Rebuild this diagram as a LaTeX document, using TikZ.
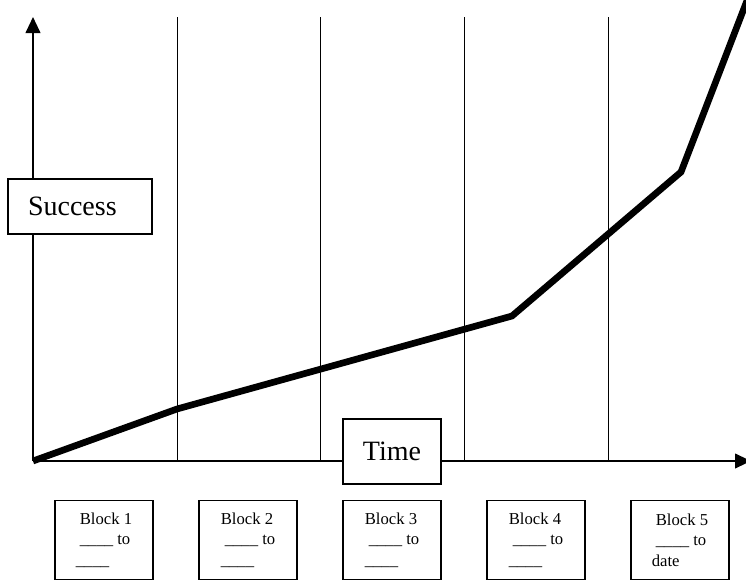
\documentclass[tikz,border=0pt]{standalone}
\usepackage{fontspec}
\setmainfont{Liberation Serif}
\usetikzlibrary{arrows.meta}

\begin{document}
\begin{tikzpicture}[x=0.75pt, y=-0.75pt,
axis_style/.style={draw=black, line width=1.5pt, -{Triangle[length=12pt,width=11pt]}},
grid_style/.style={draw=black, line width=0.75pt},
curve_style/.style={draw=black, line width=5pt, line join=miter},
label_style/.style={draw=black, fill=white, line width=1pt, font=\fontsize{21}{25}\selectfont},
block_style/.style={draw=black, fill=white, line width=1pt, minimum width=73.5pt, minimum height=59pt, inner xsep=2pt, align=left, font=\fontsize{12.5}{15.5}\selectfont}]
\useasboundingbox (0,0) rectangle (746,582);

\coordinate (o) at (33,461);
\coordinate (ytop) at (33,17);
\coordinate (xend) at (751,461);

\coordinate (t1) at (177,17);
\coordinate (b1) at (177,461);
\coordinate (t2) at (320,17);
\coordinate (b2) at (320,461);
\coordinate (t3) at (464,17);
\coordinate (b3) at (464,461);
\coordinate (t4) at (608,17);
\coordinate (b4) at (608,461);

\coordinate (p1) at (177,409);
\coordinate (p2) at (512,316);
\coordinate (p3) at (681,172);
\coordinate (p4) at (748,-2);

\draw[grid_style] (t1) -- (b1);
\draw[grid_style] (t2) -- (b2);
\draw[grid_style] (t3) -- (b3);
\draw[grid_style] (t4) -- (b4);

\draw[axis_style] (o) -- (ytop);
\draw[axis_style] (o) -- (xend);

\draw[curve_style] (o) -- (p1) -- (p2) -- (p3) -- (p4);

\node[label_style, minimum height=41.25pt, text width=78pt, inner xsep=15pt, align=left] (success) at (80,206.5) {Success};
\node[label_style, minimum width=73.5pt, minimum height=48.75pt] (time) at (392,451.5) {Time};

\node[block_style] (block1) at (104,540) {\hspace*{3pt}Block 1\\\hspace*{3pt}\_\_\_\_ to\\\_\_\_\_};
\node[block_style] (block2) at (248,540) {Block 2\\\hspace*{3pt}\_\_\_\_ to\\\_\_\_\_};
\node[block_style] (block3) at (392,540) {Block 3\\\hspace*{3pt}\_\_\_\_ to\\\_\_\_\_};
\node[block_style] (block4) at (536,540) {Block 4\\\hspace*{3pt}\_\_\_\_ to\\\_\_\_\_};
\node[block_style] (block5) at (680,540) {\hspace*{3pt}Block 5\\\hspace*{3pt}\_\_\_\_ to\\date};

\end{tikzpicture}
\end{document}
